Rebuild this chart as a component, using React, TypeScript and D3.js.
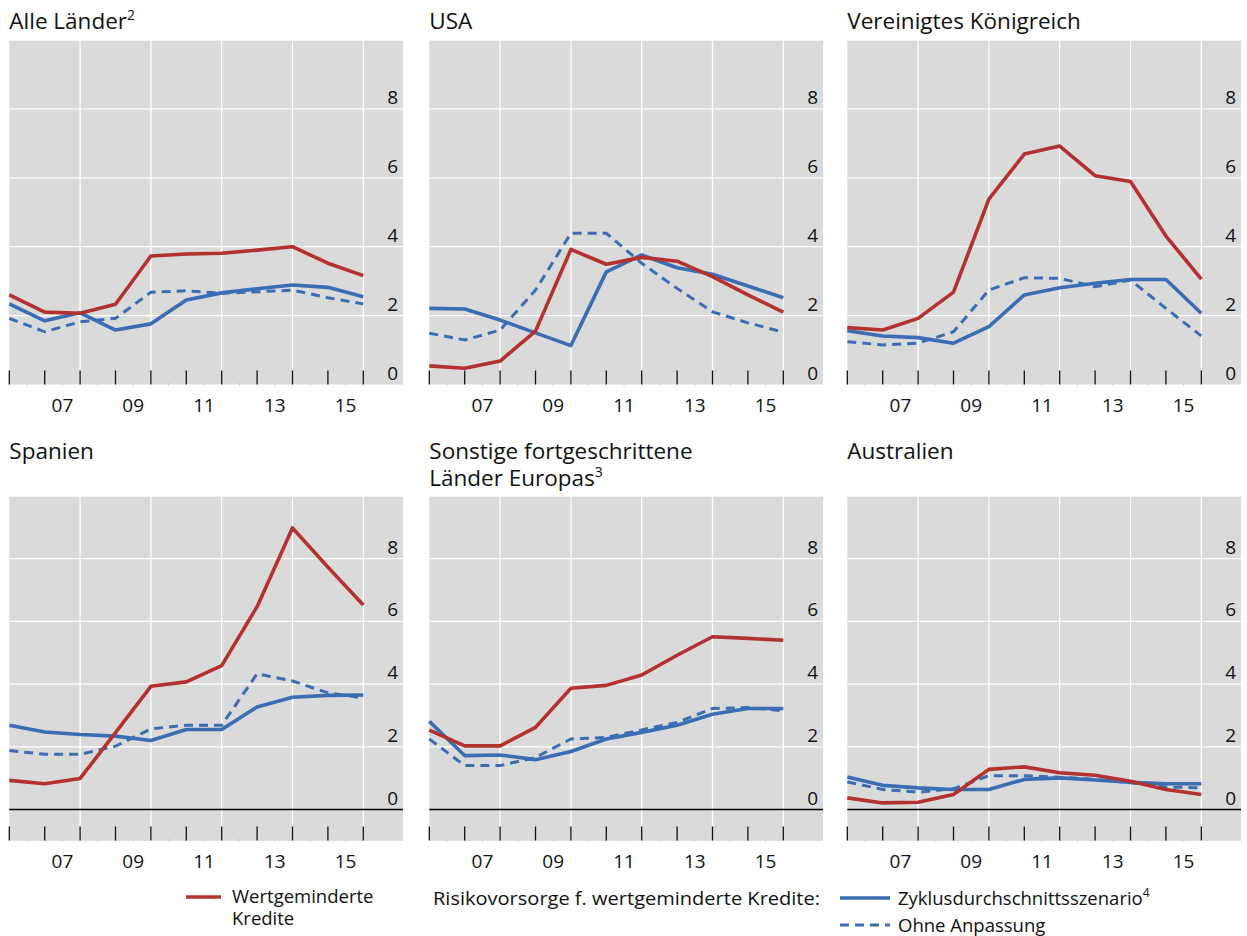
import React from 'react'
import * as d3 from 'd3'

// years of the data points (end of year values, placed on year boundaries)
const years = [2006, 2007, 2008, 2009, 2010, 2011, 2012, 2013, 2014, 2015, 2016]
const yearLabels = ['07', '09', '11', '13', '15']
const yTicks = [0, 2, 4, 6, 8]

// title lines and footnote number
const panelTitles = [
  [['Alle Länder'], '2'],
  [['USA'], ''],
  [['Vereinigtes Königreich'], ''],
  [['Spanien'], ''],
  [['Sonstige fortgeschrittene', 'Länder Europas'], '3'],
  [['Australien'], ''],
] as [string[], string][]

// Wertgeminderte Kredite
const impaired = [
  [2.6, 2.1, 2.07, 2.33, 3.73, 3.79, 3.81, 3.9, 4.0, 3.52, 3.16],
  [0.54, 0.47, 0.68, 1.55, 3.92, 3.49, 3.69, 3.58, 3.13, 2.6, 2.1],
  [1.65, 1.58, 1.92, 2.68, 5.38, 6.69, 6.92, 6.06, 5.89, 4.31, 3.06],
  [0.93, 0.82, 0.99, 2.45, 3.93, 4.07, 4.59, 6.47, 8.98, 7.73, 6.52],
  [2.53, 2.03, 2.03, 2.62, 3.87, 3.96, 4.29, 4.92, 5.51, 5.46, 5.4],
  [0.37, 0.21, 0.23, 0.48, 1.28, 1.36, 1.17, 1.09, 0.9, 0.64, 0.48],
]

// Zyklusdurchschnittsszenario
const cycleAvg = [
  [2.34, 1.85, 2.08, 1.58, 1.76, 2.45, 2.66, 2.78, 2.89, 2.82, 2.55],
  [2.21, 2.19, 1.87, 1.5, 1.13, 3.27, 3.76, 3.39, 3.2, 2.86, 2.52],
  [1.56, 1.41, 1.36, 1.2, 1.68, 2.6, 2.81, 2.94, 3.05, 3.05, 2.07],
  [2.69, 2.47, 2.39, 2.34, 2.2, 2.55, 2.55, 3.27, 3.58, 3.64, 3.65],
  [2.81, 1.72, 1.74, 1.59, 1.85, 2.25, 2.46, 2.69, 3.04, 3.22, 3.22],
  [1.04, 0.77, 0.69, 0.64, 0.64, 0.96, 1.01, 0.94, 0.87, 0.82, 0.82],
]

// Ohne Anpassung
const noAdjust = [
  [1.92, 1.53, 1.82, 1.92, 2.68, 2.72, 2.65, 2.69, 2.74, 2.52, 2.34],
  [1.49, 1.29, 1.58, 2.74, 4.39, 4.39, 3.52, 2.79, 2.11, 1.79, 1.52],
  [1.24, 1.15, 1.2, 1.53, 2.74, 3.1, 3.08, 2.84, 3.03, 2.21, 1.41],
  [1.88, 1.76, 1.76, 2.02, 2.57, 2.69, 2.69, 4.33, 4.1, 3.72, 3.56],
  [2.25, 1.4, 1.4, 1.66, 2.25, 2.3, 2.54, 2.78, 3.22, 3.25, 3.15],
  [0.88, 0.64, 0.55, 0.66, 1.08, 1.08, 1.03, 0.96, 0.85, 0.72, 0.69],
]

const RED = '#b3312f'
const BLUE = '#3a6db4'
const BG = '#dadada'
const FONT = '"Open Sans", "Noto Sans", sans-serif'

const colX = [9.3, 429.3, 847.3]
const plotW = 393.7

const Panel = ({ idx }: { idx: number }) => {
  const col = idx % 3
  const bottomRow = idx >= 3
  const left = colX[col]
  const top = bottomRow ? 496 : 40
  const zeroY = bottomRow ? 809.5 : 384.5
  const yMin = bottomRow ? -1 : 0
  const plotBottom = bottomRow ? 840.5 : 384.5

  const x = d3.scaleLinear().domain([2006, 2006 + plotW / 35.4]).range([left, left + plotW])
  const y = d3.scaleLinear().domain([0, 10]).range([zeroY, top])
  const line = d3.line<number>().x((_, i) => x(years[i])).y(d => y(d))

  const [lines, note] = panelTitles[idx]
  const titleY = bottomRow ? 459 : 29
  const lastY = titleY + (lines.length - 1) * 27

  return (
    <g>
      <rect x={left} y={top} width={plotW} height={y(yMin) - top} fill={BG} />
      {[2008, 2010, 2012, 2014, 2016].map(yr => (
        <line key={yr} x1={x(yr)} x2={x(yr)} y1={top} y2={plotBottom} stroke="#fff" strokeWidth={1.3} />
      ))}
      {[2, 4, 6, 8, 10].map(v => (
        <line key={v} x1={left} x2={left + plotW} y1={y(v)} y2={y(v)} stroke="#fff" strokeWidth={1.3} />
      ))}
      {bottomRow && (
        <line x1={left} x2={left + plotW} y1={zeroY} y2={zeroY} stroke="#000" strokeWidth={1.3} />
      )}
      {years.map(yr => (
        <line key={yr} x1={x(yr)} x2={x(yr)} y1={plotBottom - 14} y2={plotBottom} stroke="#111" strokeWidth={1.3} />
      ))}
      {years.slice(0, -1).map(yr => (
        <line key={'m' + yr} x1={x(yr + 0.5)} x2={x(yr + 0.5)} y1={plotBottom - 2} y2={plotBottom + 1} stroke="#c8c8c8" strokeWidth={1} />
      ))}
      {yTicks.map(v => (
        <text key={v} x={left + plotW - 5} y={y(v) - 5} textAnchor="end" fontSize={19} fontFamily={FONT} fill="#111">
          {v}
        </text>
      ))}
      {yearLabels.map((lab, i) => (
        <text key={lab} x={x(2007.5 + 2 * i)} y={plotBottom + 27} textAnchor="middle" fontSize={19} fontFamily={FONT} fill="#111">
          {lab}
        </text>
      ))}
      <path d={line(noAdjust[idx]) || ''} fill="none" stroke={BLUE} strokeWidth={3} strokeDasharray="9,6" />
      <path d={line(cycleAvg[idx]) || ''} fill="none" stroke={BLUE} strokeWidth={3.6} strokeLinejoin="round" />
      <path d={line(impaired[idx]) || ''} fill="none" stroke={RED} strokeWidth={3.6} strokeLinejoin="round" />
      {lines.map((t, i) => (
        <text key={t} x={left} y={titleY + i * 27} fontSize={22.5} fontFamily={FONT} fill="#111">
          {t}
          {note && i === lines.length - 1 && <tspan fontSize={14} dy={-9}>{note}</tspan>}
        </text>
      ))}
    </g>
  )
}

const App = () => {
  return (
    <svg width={1247} height={936} style={{ position: 'absolute', left: 0, top: 0, background: '#fff' }}>
      {[0, 1, 2, 3, 4, 5].map(i => <Panel key={i} idx={i} />)}
      {/* legend */}
      <g fontFamily={FONT} fontSize={18.5} fill="#111">
        <line x1={186} x2={221} y1={897} y2={897} stroke={RED} strokeWidth={3.6} />
        <text x={232} y={903}>Wertgeminderte</text>
        <text x={232} y={925}>Kredite</text>
        <text x={433} y={905} textLength={387} lengthAdjust="spacingAndGlyphs">Risikovorsorge f. wertgeminderte Kredite:</text>
        <line x1={840} x2={890} y1={898} y2={898} stroke={BLUE} strokeWidth={3.6} />
        <text x={898} y={905}>
          Zyklusdurchschnittsszenario<tspan fontSize={12} dy={-8}>4</tspan>
        </text>
        <line x1={840} x2={890} y1={925} y2={925} stroke={BLUE} strokeWidth={3} strokeDasharray="9,6" />
        <text x={898} y={932}>Ohne Anpassung</text>
      </g>
    </svg>
  )
}

export default App
